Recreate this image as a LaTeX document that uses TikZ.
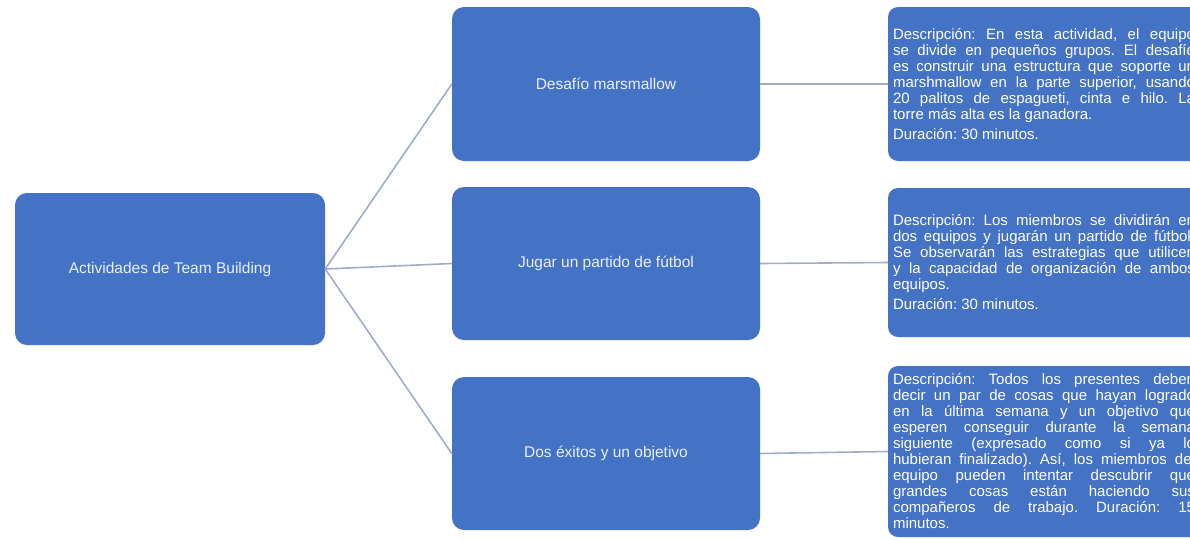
\documentclass[tikz,border=0pt]{standalone}
\usepackage{fontspec}
\setmainfont{Liberation Sans}
\setlength{\parindent}{0pt}
\frenchspacing
\definecolor{boxblue}{RGB}{68,114,196}
\definecolor{linkgray}{RGB}{160,172,200}
\definecolor{softwhite}{RGB}{232,240,255}
\begin{document}
\begin{tikzpicture}[x=1pt,y=-1pt,
  box/.style={rectangle, rounded corners=12pt, fill=boxblue, text=softwhite},
  topicbox/.style={box, inner sep=0pt, font=\fontsize{15.5}{18}\selectfont},
  descbox/.style={box, rounded corners=10pt, text=white, text width=302pt,
    inner xsep=5pt, inner ysep=3pt, align=justify, font=\fontsize{15}{16}\selectfont},
  link/.style={draw=linkgray, line width=1.6pt}]
\useasboundingbox (0,0) rectangle (1190,539);
\clip (0,0) rectangle (1190,539);

% root
\node[topicbox, minimum width=310pt, minimum height=152pt] (root) at (170,269)
  {Actividades de Team Building};

% activities
\node[topicbox, minimum width=308pt, minimum height=154pt] (t1) at (606,84)
  {Desafío marsmallow};
\node[topicbox, minimum width=308pt, minimum height=153pt] (t2) at (606,263.5)
  {Jugar un partido de fútbol};
\node[topicbox, minimum width=308pt, minimum height=153pt] (t3) at (606,453.5)
  {Dos éxitos y un objetivo};

% descriptions
\node[descbox, minimum height=154pt] (d1) at (1044,84)
  {Descripción: En esta actividad, el equipo\linebreak
   se divide en pequeños grupos. El desafío\linebreak
   es construir una estructura que soporte un\linebreak
   marshmallow en la parte superior, usando\linebreak
   20 palitos de espagueti, cinta e hilo. La\linebreak
   torre más alta es la ganadora.\par\vspace{4pt}
   Duración: 30 minutos.};
\node[descbox, minimum height=149pt] (d2) at (1044,262.5)
  {Descripción: Los miembros se dividirán en\linebreak
   dos equipos y jugarán un partido de fútbol.\linebreak
   Se observarán las estrategias que utilicen\linebreak
   y la capacidad de organización de ambos\linebreak
   equipos.\par\vspace{4pt}
   Duración: 30 minutos.};
\node[descbox, minimum height=171pt] (d3) at (1044,451.5)
  {Descripción: Todos los presentes deben\linebreak
   decir un par de cosas que hayan logrado\linebreak
   en la última semana y un objetivo que\linebreak
   esperen conseguir durante la semana\linebreak
   siguiente (expresado como si ya lo\linebreak
   hubieran finalizado). Así, los miembros del\linebreak
   equipo pueden intentar descubrir qué\linebreak
   grandes cosas están haciendo sus\linebreak
   compañeros de trabajo. Duración: 15\linebreak
   minutos.};

% connectors
\draw[link] (root.east) -- (t1.west);
\draw[link] (root.east) -- (t2.west);
\draw[link] (root.east) -- (t3.west);
\draw[link] (t1.east) -- (d1.west);
\draw[link] (t2.east) -- (d2.west);
\draw[link] (t3.east) -- (d3.west);
\end{tikzpicture}
\end{document}
